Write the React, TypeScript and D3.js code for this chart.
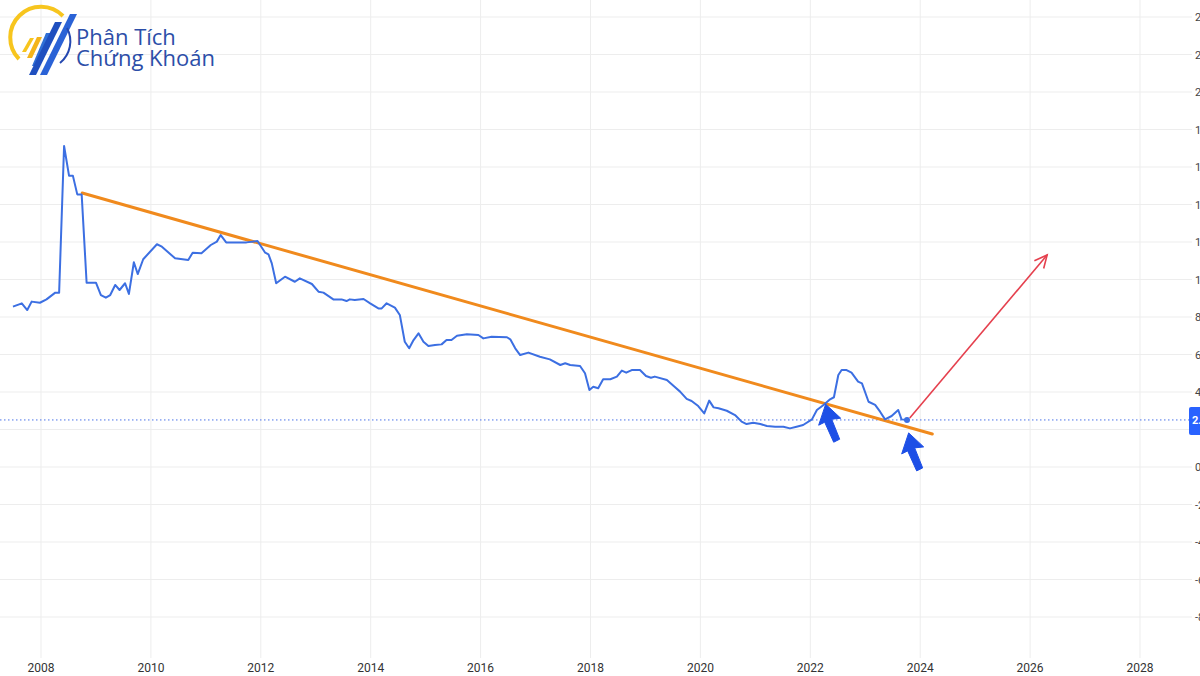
import React from "react";
import * as d3 from "d3";

// blue series: decimal year / value
const years = [
  2007.49, 2007.65, 2007.75, 2007.83, 2007.98, 2008.1, 2008.26, 2008.33, 2008.42, 2008.51,
  2008.58, 2008.66, 2008.74, 2008.83, 2009.0, 2009.09, 2009.18, 2009.26, 2009.35, 2009.43,
  2009.53, 2009.6, 2009.69, 2009.76, 2009.86, 2010.11, 2010.2, 2010.44, 2010.68, 2010.76,
  2010.92, 2011.09, 2011.2, 2011.27, 2011.37, 2011.74, 2011.94, 2012.08, 2012.14, 2012.2,
  2012.28, 2012.44, 2012.62, 2012.71, 2012.93, 2013.05, 2013.14, 2013.32, 2013.47, 2013.56,
  2013.62, 2013.71, 2013.87, 2013.99, 2014.14, 2014.2, 2014.29, 2014.44, 2014.53, 2014.62,
  2014.7, 2014.78, 2014.87, 2014.96, 2015.05, 2015.17, 2015.29, 2015.38, 2015.47, 2015.57,
  2015.75, 2015.96, 2016.05, 2016.2, 2016.48, 2016.54, 2016.63, 2016.72, 2016.87, 2017.08,
  2017.26, 2017.45, 2017.54, 2017.63, 2017.81, 2017.9, 2017.98, 2018.05, 2018.14, 2018.23,
  2018.36, 2018.48, 2018.57, 2018.65, 2018.75, 2018.9, 2019.01, 2019.1, 2019.17, 2019.39,
  2019.54, 2019.63, 2019.75, 2019.84, 2019.96, 2020.07, 2020.16, 2020.24, 2020.33, 2020.48,
  2020.63, 2020.75, 2020.84, 2020.96, 2021.09, 2021.21, 2021.36, 2021.51, 2021.63, 2021.75,
  2021.87, 2022.03, 2022.12, 2022.24, 2022.36, 2022.43, 2022.51, 2022.57, 2022.66, 2022.75,
  2022.87, 2022.94, 2023.06, 2023.18, 2023.27, 2023.36, 2023.48, 2023.6, 2023.66, 2023.76,
];
const values = [
  8.55, 8.73, 8.37, 8.82, 8.76, 8.94, 9.3, 9.3, 17.12, 15.54,
  15.54, 14.54, 14.54, 9.83, 9.83, 9.17, 9.03, 9.17, 9.71, 9.44,
  9.8, 9.23, 10.92, 10.29, 11.08, 11.88, 11.75, 11.13, 11.04, 11.43,
  11.4, 11.84, 12.02, 12.37, 11.98, 11.98, 12.05, 11.43, 11.34, 10.86,
  9.8, 10.15, 9.88, 10.06, 9.76, 9.35, 9.3, 8.94, 8.94, 8.85,
  8.94, 8.91, 8.96, 8.73, 8.46, 8.46, 8.73, 8.5, 8.11, 6.68,
  6.33, 6.77, 7.13, 6.68, 6.45, 6.51, 6.54, 6.77, 6.77, 7.0,
  7.08, 7.04, 6.86, 6.95, 6.92, 6.81, 6.33, 5.97, 6.1, 5.88,
  5.74, 5.44, 5.53, 5.44, 5.39, 5.0, 4.11, 4.28, 4.2, 4.68,
  4.68, 4.82, 5.14, 5.03, 5.17, 5.17, 4.85, 4.76, 4.82, 4.64,
  4.25, 4.02, 3.63, 3.52, 3.25, 2.86, 3.54, 3.18, 3.13, 3.0,
  2.77, 2.42, 2.29, 2.36, 2.29, 2.19, 2.15, 2.15, 2.06, 2.15,
  2.24, 2.54, 3.04, 3.31, 3.61, 3.72, 4.91, 5.17, 5.17, 5.03,
  4.55, 4.46, 3.48, 3.31, 2.95, 2.54, 2.72, 3.04, 2.54, 2.51,
];

const lastValue = 2.51;
const lastLabel = "2.51";

// trend line (orange) and projection (red)
const trendYears = [2008.75, 2024.22];
const trendValues = [14.61, 1.76];
const projYears = [2023.81, 2026.31];
const projValues = [2.61, 11.31];

// blue cursor arrows: tip position in data space
const markerYears = [2022.28, 2023.79];
const markerValues = [3.35, 1.82];

const xTicks = [2008, 2010, 2012, 2014, 2016, 2018, 2020, 2022, 2024, 2026, 2028];
const yTicks = [-8, -6, -4, -2, 0, 2, 4, 6, 8, 10, 12, 14, 16, 18, 20, 22, 24];

const W = 1200;
const H = 676;

const App: React.FC = () => {
  const x = d3.scaleLinear().domain([2008, 2028]).range([41, 1140]);
  const y = d3.scaleLinear().domain([0, 24]).range([467, 17]);

  const series = years.map((yr, i) => ({ yr, v: values[i] }));
  const line = d3
    .line<{ yr: number; v: number }>()
    .x((d) => x(d.yr))
    .y((d) => y(d.v));

  const px1 = x(projYears[0]);
  const py1 = y(projValues[0]);
  const px2 = x(projYears[1]);
  const py2 = y(projValues[1]);
  const ang = Math.atan2(py2 - py1, px2 - px1);
  const headLen = 14;
  const headA = 0.45;
  const head = `M${px2 - headLen * Math.cos(ang - headA)},${py2 - headLen * Math.sin(ang - headA)} L${px2},${py2} L${px2 - headLen * Math.cos(ang + headA)},${py2 - headLen * Math.sin(ang + headA)}`;

  // chunky cursor-like arrow pointing up-left, drawn relative to the tip
  const cursor = "M0,0 L-7,21 L-1,18 L8,38 L14,35 L6,15 L15,14 Z";

  const gridColor = "#ededed";

  return (
    <svg
      width={W}
      height={H}
      style={{ position: "absolute", left: 0, top: 0, background: "#fff" }}
      fontFamily="Roboto, sans-serif"
    >
      <rect width={W} height={H} fill="#fff" />

      {/* grid */}
      {yTicks.map((t) => (
        <line key={"h" + t} x1={0} x2={1192} y1={y(t)} y2={y(t)} stroke={gridColor} strokeWidth={1} />
      ))}
      {xTicks.map((t) => (
        <line key={"v" + t} x1={x(t)} x2={x(t)} y1={0} y2={658} stroke={gridColor} strokeWidth={1} />
      ))}

      {/* x labels */}
      {xTicks.map((t) => (
        <text key={"xl" + t} x={x(t)} y={672} textAnchor="middle" fontSize={12} fill="#333">
          {t}
        </text>
      ))}

      {/* y labels, clipped at the right edge */}
      {yTicks.map((t) => (
        <text key={"yl" + t} x={1195} y={y(t) + 4} fontSize={11} fill="#444">
          {t}
        </text>
      ))}

      {/* last value dotted line */}
      <line
        x1={0}
        x2={1190}
        y1={y(lastValue)}
        y2={y(lastValue)}
        stroke="#4a72e8"
        strokeWidth={1}
        strokeDasharray="1.5,2.5"
      />

      {/* trend */}
      <line
        x1={x(trendYears[0])}
        y1={y(trendValues[0])}
        x2={x(trendYears[1])}
        y2={y(trendValues[1])}
        stroke="#f08a1d"
        strokeWidth={3}
        strokeLinecap="round"
      />

      {/* series */}
      <path d={line(series) || ""} fill="none" stroke="#3c6fe2" strokeWidth={2} strokeLinejoin="round" />
      <circle cx={x(years[years.length - 1])} cy={y(values[values.length - 1])} r={3} fill="#3c6fe2" />

      {/* projection arrow */}
      <line x1={px1} y1={py1} x2={px2} y2={py2} stroke="#e5404e" strokeWidth={1.6} />
      <path d={head} fill="none" stroke="#e5404e" strokeWidth={1.6} strokeLinejoin="miter" />

      {/* blue cursor arrows */}
      {markerYears.map((m, i) => (
        <path
          key={"m" + i}
          d={cursor}
          transform={`translate(${x(m)},${y(markerValues[i])})`}
          fill="#1d4fe6"
          stroke="#1d4fe6"
          strokeWidth={1}
          strokeLinejoin="round"
        />
      ))}

      {/* price badge */}
      <rect x={1189} y={y(lastValue) - 13} width={20} height={28} rx={2} fill="#2962ff" />
      <text x={1192} y={y(lastValue) + 4} fontSize={11} fill="#fff" fontWeight="bold">
        {lastLabel}
      </text>

      {/* logo */}
      <g>
        <path d="M19,59 A28,28 0 0 1 63,16" fill="none" stroke="#f7c51e" strokeWidth={4} />
        <path d="M22,52 L30,38 L34,38 L26,52 Z" fill="#f7c51e" />
        <path d="M27,58 L37,37 L42,37 L32,58 Z" fill="#f4b41a" />
        <path d="M32,66 L46,33 L51,33 L37,66 Z" fill="#2f6fd6" />
        <path d="M29,75 L55,22 L62,22 L36,75 Z" fill="#1f4fbf" />
        <path d="M40,75 L70,14 L77,14 L47,75 Z" fill="#2a62d6" />
        <path d="M67,28 A28,28 0 0 1 60,63" fill="none" stroke="#2548b0" strokeWidth={2} />
        <text x={76} y={45} fontSize={22} fill="#2c4ea8" fontFamily="'Open Sans', sans-serif">
          Phân Tích
        </text>
        <text x={76} y={66} fontSize={22} fill="#2c4ea8" fontFamily="'Open Sans', sans-serif">
          Chứng Khoán
        </text>
      </g>
    </svg>
  );
};

export default App;
